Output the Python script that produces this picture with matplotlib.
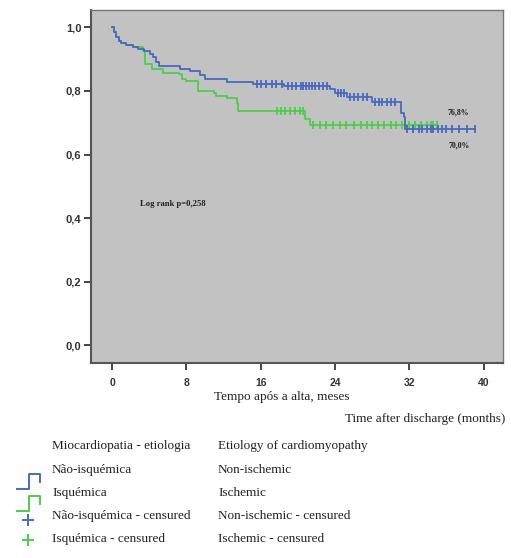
import matplotlib
matplotlib.use("Agg")
import matplotlib.pyplot as plt
from matplotlib.lines import Line2D
import numpy as np

# ---------------- data ----------------
# Kaplan-Meier step points (time in months, survival)
nonisch_t = [0, 0.2, 0.4, 0.7, 1.0, 1.5, 2.3, 2.8, 3.4, 4.1, 4.4, 4.7, 5.0, 7.3, 8.4, 9.5,
             10.0, 12.4, 15.2, 18.5, 23.5, 24.0, 25.3, 28.0, 31.1, 31.4, 31.5, 39.1]
nonisch_s = [1.0, 0.985, 0.97, 0.958, 0.95, 0.945, 0.938, 0.93, 0.925, 0.915, 0.905, 0.89,
             0.878, 0.868, 0.862, 0.85, 0.838, 0.828, 0.822, 0.815, 0.805, 0.794, 0.781,
             0.765, 0.731, 0.717, 0.679, 0.679]
isch_t = [0, 0.2, 0.4, 0.7, 1.0, 1.5, 2.3, 3.3, 3.5, 4.3, 5.5, 7.2, 7.5, 8.0, 9.3, 11.0,
          11.2, 12.4, 13.4, 13.6, 20.8, 21.3, 22.0, 35.0]
isch_s = [1.0, 0.985, 0.97, 0.958, 0.95, 0.945, 0.938, 0.925, 0.883, 0.868, 0.857, 0.852,
          0.836, 0.831, 0.80, 0.794, 0.784, 0.779, 0.763, 0.737, 0.71, 0.694, 0.692, 0.692]

nonisch_cens = [15.6, 16.0, 16.6, 17.2, 17.6, 18.3, 18.9, 19.4, 19.8, 20.3, 20.6, 20.9, 21.2,
                21.5, 21.9, 22.3, 22.7, 23.1, 24.3, 24.6, 25.0, 25.6, 26.0, 26.5, 27.0, 27.4,
                28.3, 28.7, 29.1, 29.6, 30.0, 30.5, 31.8, 32.4, 33.0, 33.4, 33.9, 34.3, 34.6,
                35.1, 35.5, 36.0, 36.6, 37.4, 38.2, 39.1]
isch_cens = [17.8, 18.2, 18.6, 19.2, 19.7, 20.2, 20.6, 21.6, 22.4, 23.0, 23.8, 24.5, 25.2,
             26.0, 26.8, 27.4, 28.0, 28.6, 29.3, 30.0, 30.6, 31.2, 32.0, 32.6, 33.3, 33.9,
             34.3, 34.6, 35.0]

x_ticks = [0, 8, 16, 24, 32, 40]
y_ticks = [0.0, 0.2, 0.4, 0.6, 0.8, 1.0]
y_ticklabels = ["0,0", "0,2", "0,4", "0,6", "0,8", "1,0"]

legend_pt = ["Miocardiopatia - etiologia", "Não-isquémica", "Isquémica",
             "Não-isquémica - censured", "Isquémica - censured"]
legend_en = ["Etiology of cardiomyopathy", "Non-ischemic", "Ischemic",
             "Non-ischemic - censured", "Ischemic - censured"]

BLUE = "#4a68bf"
GREEN = "#4dcc4d"

# ---------------- figure ----------------
W, H = 511, 558
fig = plt.figure(figsize=(W / 100, H / 100), dpi=100)
fig.patch.set_facecolor("white")

def px_axes(x0, y0, x1, y1):
    return fig.add_axes([x0 / W, 1 - y1 / H, (x1 - x0) / W, (y1 - y0) / H])

ax = px_axes(91, 10, 503, 363)
ax.set_facecolor("#c2c2c2")
ax.set_xlim(-2.27, 42.1)
ax.set_ylim(-0.055, 1.054)

def step_value(ts, ss, t):
    idx = np.searchsorted(ts, t, side="right") - 1
    return np.array(ss)[idx]

ax.step(nonisch_t, nonisch_s, where="post", color=BLUE, lw=1.3, zorder=3)
ax.step(isch_t, isch_s, where="post", color=GREEN, lw=1.3, zorder=2)
ax.plot(nonisch_cens, step_value(nonisch_t, nonisch_s, nonisch_cens), ls="none",
        marker="|", ms=6, mew=1.3, color=BLUE, zorder=3)
ax.plot(isch_cens, step_value(isch_t, isch_s, isch_cens), ls="none",
        marker="|", ms=6, mew=1.3, color=GREEN, zorder=2)

ax.text(3.0, 0.443, "Log rank p=0,258", fontsize=6.2, fontweight="bold",
        family="Liberation Serif", color="#222222", va="center", ha="left")
ax.text(36.1, 0.733, "76,8%", fontsize=5.6, fontweight="bold",
        family="Liberation Serif", color="#222222", va="center", ha="left")
ax.text(36.2, 0.629, "70,0%", fontsize=5.6, fontweight="bold",
        family="Liberation Serif", color="#222222", va="center", ha="left")

ax.set_xticks(x_ticks)
ax.set_xticklabels([str(v) for v in x_ticks])
ax.set_yticks(y_ticks)
ax.set_yticklabels(y_ticklabels)
ax.tick_params(axis="both", direction="out", length=5, width=1.4, color="#444444",
               labelcolor="#333333")
ax.tick_params(axis="x", pad=6, labelsize=7.5)
ax.tick_params(axis="y", pad=2, labelsize=8)
for lab in ax.get_xticklabels() + ax.get_yticklabels():
    lab.set_family("Liberation Sans")
    lab.set_fontweight("bold")

ax.spines["left"].set_color("#555555")
ax.spines["left"].set_linewidth(1.5)
ax.spines["bottom"].set_color("#555555")
ax.spines["bottom"].set_linewidth(1.5)
ax.spines["top"].set_color("#777777")
ax.spines["top"].set_linewidth(1.0)
ax.spines["right"].set_color("#777777")
ax.spines["right"].set_linewidth(1.0)

serif = "Liberation Serif"
fig.text(282 / W, 1 - 397 / H, "Tempo após a alta, meses", ha="center", va="center",
         fontsize=9.5, family=serif, color="#222222")
fig.text(505 / W, 1 - 419 / H, "Time after discharge (months)", ha="right", va="center",
         fontsize=9.5, family=serif, color="#222222")

# ---------------- legend ----------------
rows_y = [446, 470, 493, 516, 539]
for y, a, b in zip(rows_y, legend_pt, legend_en):
    fig.text(52 / W, 1 - y / H, a, ha="left", va="center", fontsize=9.5, family=serif,
             color="#222222")
    fig.text(218 / W, 1 - y / H, b, ha="left", va="center", fontsize=9.5, family=serif,
             color="#222222")

lax = px_axes(0, 0, W, H)
lax.set_xlim(0, W)
lax.set_ylim(H, 0)
lax.axis("off")
lax.patch.set_alpha(0)
for col, yb in [(BLUE, 489), (GREEN, 511)]:
    lax.add_line(Line2D([17, 29, 29, 40, 40], [yb, yb, yb - 15, yb - 15, yb - 7],
                        color=col, lw=1.4))
lax.plot([28], [520], marker="+", ms=8.5, mew=1.4, color=BLUE)
lax.plot([28], [540], marker="+", ms=8.5, mew=1.4, color=GREEN)

fig.savefig("out.png", dpi=100, facecolor="white")
